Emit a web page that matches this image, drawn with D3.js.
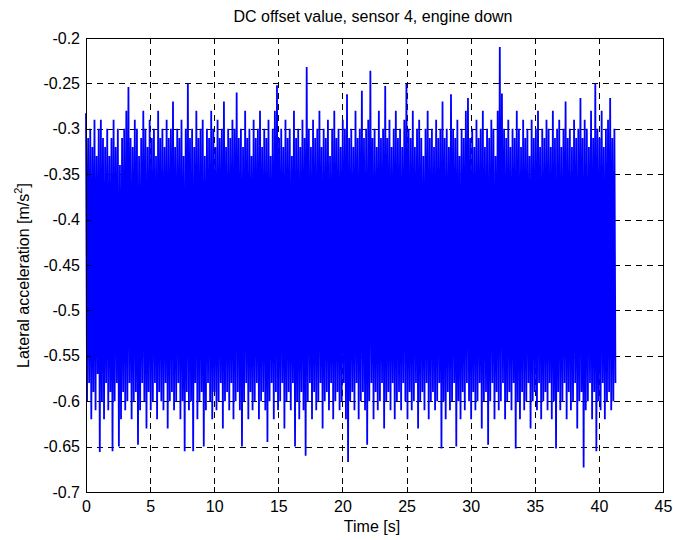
<!DOCTYPE html>
<html>
<head>
<script src="https://d3js.org/d3.v7.min.js"></script>
<style>
  body { margin: 0; background: #fff; }
  svg text { font-family: "Liberation Sans", Arial, sans-serif; fill: #000; }
  .axis path, .axis line { fill: none; stroke: #000; shape-rendering: crispEdges; }
  .grid line { stroke: #000; stroke-dasharray: 6 5; shape-rendering: crispEdges; }
</style>
</head>
<body>
<script>
const xTicks = [0, 5, 10, 15, 20, 25, 30, 35, 40, 45];
const yTicks = [-0.7, -0.65, -0.6, -0.55, -0.5, -0.45, -0.4, -0.35, -0.3, -0.25, -0.2];
const yTickLabels = ['-0.7', '-0.65', '-0.6', '-0.55', '-0.5', '-0.45', '-0.4', '-0.35', '-0.3', '-0.25', '-0.2'];

// seconds between successive peak samples
const sampleInterval = 0.1655;

// upper swings of the signal (m/s^2)
const peaks = [
  -0.283,-0.31,-0.30,-0.32,-0.29,-0.33,-0.30,-0.29,-0.31,-0.32,
  -0.30,-0.33,-0.31,-0.29,-0.32,-0.30,-0.34,-0.31,-0.30,-0.28,
  -0.254,-0.31,-0.32,-0.29,-0.30,-0.33,-0.31,-0.28,-0.30,-0.32,
  -0.29,-0.31,-0.30,-0.33,-0.28,-0.31,-0.30,-0.32,-0.29,-0.31,
  -0.30,-0.27,-0.32,-0.30,-0.31,-0.29,-0.33,-0.30,-0.25,-0.31,
  -0.30,-0.32,-0.28,-0.31,-0.30,-0.29,-0.33,-0.30,-0.31,-0.28,
  -0.30,-0.32,-0.29,-0.31,-0.30,-0.27,-0.32,-0.30,-0.31,-0.29,
  -0.30,-0.26,-0.31,-0.30,-0.32,-0.28,-0.31,-0.30,-0.33,-0.29,
  -0.31,-0.30,-0.28,-0.32,-0.30,-0.31,-0.29,-0.33,-0.30,-0.28,
  -0.252,-0.31,-0.30,-0.32,-0.29,-0.31,-0.30,-0.33,-0.28,-0.31,
  -0.30,-0.32,-0.29,-0.31,-0.232,-0.30,-0.32,-0.29,-0.31,-0.30,
  -0.28,-0.32,-0.30,-0.31,-0.29,-0.33,-0.30,-0.28,-0.31,-0.30,
  -0.32,-0.29,-0.30,-0.262,-0.31,-0.30,-0.32,-0.28,-0.31,-0.30,
  -0.258,-0.31,-0.30,-0.29,-0.236,-0.31,-0.30,-0.32,-0.28,-0.31,
  -0.30,-0.253,-0.31,-0.29,-0.32,-0.30,-0.28,-0.31,-0.30,-0.32,
  -0.29,-0.25,-0.30,-0.31,-0.28,-0.32,-0.30,-0.29,-0.31,-0.33,
  -0.30,-0.28,-0.31,-0.30,-0.32,-0.29,-0.31,-0.30,-0.27,-0.31,
  -0.30,-0.32,-0.262,-0.30,-0.31,-0.29,-0.33,-0.30,-0.31,-0.28,
  -0.266,-0.31,-0.30,-0.32,-0.29,-0.31,-0.30,-0.28,-0.32,-0.30,
  -0.31,-0.29,-0.30,-0.33,-0.28,-0.21,-0.261,-0.30,-0.31,-0.29,
  -0.32,-0.30,-0.31,-0.28,-0.30,-0.32,-0.29,-0.31,-0.30,-0.33,
  -0.29,-0.31,-0.30,-0.28,-0.32,-0.30,-0.31,-0.29,-0.30,-0.32,
  -0.28,-0.31,-0.30,-0.29,-0.32,-0.30,-0.27,-0.31,-0.30,-0.32,
  -0.29,-0.31,-0.30,-0.266,-0.31,-0.29,-0.30,-0.32,-0.28,-0.31,
  -0.25,-0.30,-0.31,-0.28,-0.32,-0.30,-0.29,-0.266,-0.31,-0.30
];

// lower swings of the signal (m/s^2)
const troughs = [
  -0.60,-0.58,-0.62,-0.59,-0.61,-0.57,-0.656,-0.60,-0.62,-0.58,
  -0.61,-0.59,-0.655,-0.60,-0.58,-0.65,-0.62,-0.59,-0.61,-0.60,
  -0.58,-0.62,-0.60,-0.59,-0.648,-0.61,-0.58,-0.60,-0.63,-0.59,
  -0.61,-0.60,-0.58,-0.62,-0.59,-0.60,-0.61,-0.58,-0.63,-0.60,
  -0.59,-0.61,-0.60,-0.58,-0.62,-0.60,-0.655,-0.59,-0.61,-0.60,
  -0.655,-0.58,-0.62,-0.60,-0.59,-0.65,-0.61,-0.58,-0.60,-0.62,
  -0.59,-0.61,-0.60,-0.58,-0.63,-0.60,-0.59,-0.61,-0.58,-0.62,
  -0.60,-0.59,-0.61,-0.65,-0.60,-0.58,-0.62,-0.59,-0.61,-0.60,
  -0.58,-0.62,-0.60,-0.59,-0.61,-0.645,-0.60,-0.58,-0.62,-0.59,
  -0.61,-0.60,-0.58,-0.63,-0.60,-0.59,-0.61,-0.58,-0.65,-0.60,
  -0.62,-0.59,-0.61,-0.66,-0.60,-0.58,-0.62,-0.59,-0.61,-0.60,
  -0.58,-0.63,-0.60,-0.59,-0.61,-0.58,-0.62,-0.60,-0.59,-0.61,
  -0.60,-0.58,-0.62,-0.667,-0.60,-0.59,-0.61,-0.58,-0.62,-0.60,
  -0.59,-0.61,-0.648,-0.60,-0.58,-0.62,-0.59,-0.61,-0.60,-0.58,
  -0.63,-0.60,-0.59,-0.61,-0.58,-0.62,-0.60,-0.59,-0.61,-0.58,
  -0.60,-0.62,-0.59,-0.61,-0.60,-0.58,-0.63,-0.60,-0.59,-0.61,
  -0.58,-0.62,-0.60,-0.59,-0.61,-0.60,-0.58,-0.652,-0.60,-0.62,
  -0.59,-0.61,-0.60,-0.58,-0.65,-0.60,-0.62,-0.59,-0.61,-0.58,
  -0.60,-0.62,-0.59,-0.61,-0.60,-0.58,-0.63,-0.60,-0.59,-0.648,
  -0.60,-0.58,-0.62,-0.59,-0.61,-0.60,-0.58,-0.62,-0.60,-0.59,
  -0.61,-0.58,-0.652,-0.60,-0.62,-0.59,-0.61,-0.60,-0.58,-0.63,
  -0.60,-0.59,-0.61,-0.58,-0.62,-0.60,-0.59,-0.61,-0.58,-0.62,
  -0.60,-0.652,-0.59,-0.61,-0.60,-0.58,-0.62,-0.59,-0.61,-0.60,
  -0.58,-0.63,-0.60,-0.59,-0.673,-0.61,-0.60,-0.58,-0.62,-0.59,
  -0.655,-0.60,-0.61,-0.58,-0.62,-0.60,-0.59,-0.61,-0.60,-0.58
];

const width = 673, height = 540;
const mLeft = 86, mRight = 663, mTop = 38, mBottom = 492;

const x = d3.scaleLinear().domain([0, 45]).range([mLeft, mRight]);
const y = d3.scaleLinear().domain([-0.7, -0.2]).range([mBottom, mTop]);

// alternate between upper and lower swings
const signal = [];
peaks.forEach((p, i) => {
  signal.push({ t: i * sampleInterval, v: p });
  signal.push({ t: (i + 0.5) * sampleInterval, v: troughs[i] });
});

const svg = d3.select('body').append('svg')
  .attr('width', width)
  .attr('height', height);

// dashed grid
svg.append('g').attr('class', 'grid')
  .selectAll('line').data(xTicks.slice(1, -1)).join('line')
  .attr('x1', d => Math.round(x(d)) + 0.5).attr('x2', d => Math.round(x(d)) + 0.5)
  .attr('y1', mTop).attr('y2', mBottom);
svg.append('g').attr('class', 'grid')
  .selectAll('line').data(yTicks.slice(1, -1)).join('line')
  .attr('x1', mLeft).attr('x2', mRight)
  .attr('y1', d => Math.round(y(d)) + 0.5).attr('y2', d => Math.round(y(d)) + 0.5);

svg.append('path')
  .datum(signal)
  .attr('fill', 'none')
  .attr('stroke', '#0000ff')
  .attr('stroke-width', 1.8)
  .attr('stroke-linejoin', 'miter')
  .attr('d', d3.line().x(d => x(d.t)).y(d => y(d.v)));

// axes with inward ticks on all four sides
const fmt = d => yTickLabels[yTicks.indexOf(d)];
svg.append('g').attr('class', 'axis')
  .attr('transform', `translate(0,${mBottom})`)
  .call(d3.axisBottom(x).tickValues(xTicks).tickSizeInner(-5).tickSizeOuter(0).tickPadding(9).tickFormat(d3.format('d')))
  .call(g => g.selectAll('text').attr('font-size', 16));
svg.append('g').attr('class', 'axis')
  .attr('transform', `translate(0,${mTop})`)
  .call(d3.axisTop(x).tickValues(xTicks).tickSizeInner(-5).tickSizeOuter(0).tickFormat(''));
svg.append('g').attr('class', 'axis')
  .attr('transform', `translate(${mLeft},0)`)
  .call(d3.axisLeft(y).tickValues(yTicks).tickSizeInner(-5).tickSizeOuter(0).tickPadding(6).tickFormat(fmt))
  .call(g => g.selectAll('text').attr('font-size', 16));
svg.append('g').attr('class', 'axis')
  .attr('transform', `translate(${mRight},0)`)
  .call(d3.axisRight(y).tickValues(yTicks).tickSizeInner(-5).tickSizeOuter(0).tickFormat(''));

svg.append('text')
  .attr('x', 373).attr('y', 22)
  .attr('text-anchor', 'middle').attr('font-size', 16)
  .text('DC offset value, sensor 4, engine down');

svg.append('text')
  .attr('x', 372).attr('y', 532)
  .attr('text-anchor', 'middle').attr('font-size', 16)
  .text('Time [s]');

const yl = svg.append('text')
  .attr('transform', 'translate(29,368) rotate(-90)')
  .attr('text-anchor', 'start').attr('font-size', 16);
yl.append('tspan').text('Lateral acceleration [m/s');
yl.append('tspan').attr('font-size', 11).attr('dy', -7).text('2');
yl.append('tspan').attr('dy', 7).text(']');
</script>
</body>
</html>
